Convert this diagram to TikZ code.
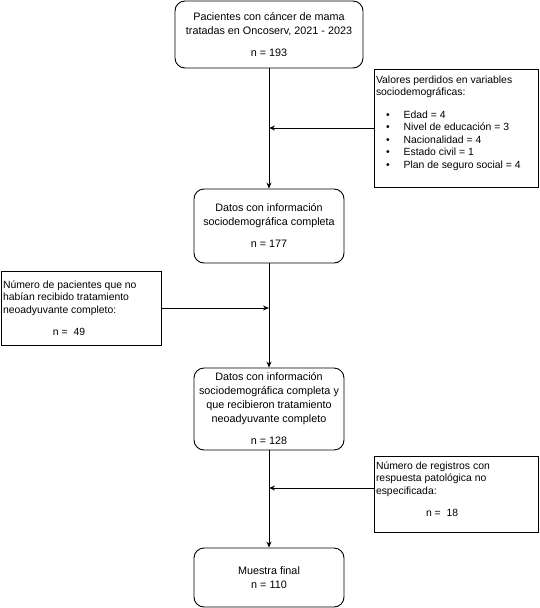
\documentclass[tikz,border=0pt]{standalone}
\usepackage{fontspec}
\setmainfont{Liberation Sans}
\usetikzlibrary{arrows.meta}
\newcommand{\sidepar}[4]{\parbox[c][#2][t]{#1}{\raggedright\leftskip=2pt\vspace*{#3}\strut #4}}
\begin{document}
\begin{tikzpicture}[x=1pt,y=-1pt,
  mainbox/.style={draw=black, rounded corners=10pt, line width=0.9pt, align=center,
     font=\fontsize{10.8}{14}\selectfont, inner sep=0pt},
  sidebox/.style={draw=black, line width=0.9pt, inner sep=0pt,
     font=\fontsize{10.4}{12.5}\selectfont},
  conn/.style={line width=0.9pt, -{Stealth[length=6pt,width=5pt]}}]
\useasboundingbox (0,0) rectangle (540,608);

\node[mainbox, minimum width=188pt, minimum height=67pt] (b1) at (269,34.5)
  {Pacientes con cáncer de mama\\tratadas en Oncoserv, 2021 - 2023\\[8pt]n = 193};

\node[sidebox] (b2) at (456,128)
  {\sidepar{164pt}{118pt}{5.25pt}{Valores perdidos en variables\\sociodemográficas:\\[10pt]%
  \hspace*{10pt}\textbullet\hspace*{14pt}Edad = 4\\
  \hspace*{10pt}\textbullet\hspace*{14pt}Nivel de educación = 3\\
  \hspace*{10pt}\textbullet\hspace*{14pt}Nacionalidad = 4\\
  \hspace*{10pt}\textbullet\hspace*{14pt}Estado civil = 1\\
  \hspace*{10pt}\textbullet\hspace*{14pt}Plan de seguro social = 4}};

\node[mainbox, minimum width=150pt, minimum height=74pt] (b3) at (269,226)
  {Datos con información\\sociodemográfica completa\\[8pt]n = 177};

\node[sidebox] (b4) at (81,308)
  {\sidepar{160pt}{74pt}{8.25pt}{Número de pacientes que no\\habían recibido tratamiento\\neoadyuvante completo:\\[9.5pt]\hspace*{50pt}n =\ \ 49}};

\node[mainbox, minimum width=150pt, minimum height=82pt] (b5) at (269,409)
  {Datos con información\\sociodemográfica completa y\\que recibieron tratamiento\\neoadyuvante completo\\[8pt]n = 128};

\node[sidebox] (b6) at (456,494)
  {\sidepar{164pt}{76pt}{4.25pt}{Número de registros con\\respuesta patológica no\\especificada:\\[9.5pt]\hspace*{50pt}n =\ \ 18}};

\node[mainbox, minimum width=150pt, minimum height=59pt] (b7) at (269,577.5)
  {Muestra final\\n = 110};

\draw[conn] (b1.south) -- (b3.north);
\draw[conn] (b2.west) -- (b2.west -| b1.south);
\draw[conn] (b3.south) -- (b5.north);
\draw[conn] (b4.east) -- (b4.east -| b3.south);
\draw[conn] (b5.south) -- (b7.north);
\draw[conn] ([yshift=6pt]b6.west) -- ([yshift=6pt]b6.west -| b5.south);
\end{tikzpicture}
\end{document}
